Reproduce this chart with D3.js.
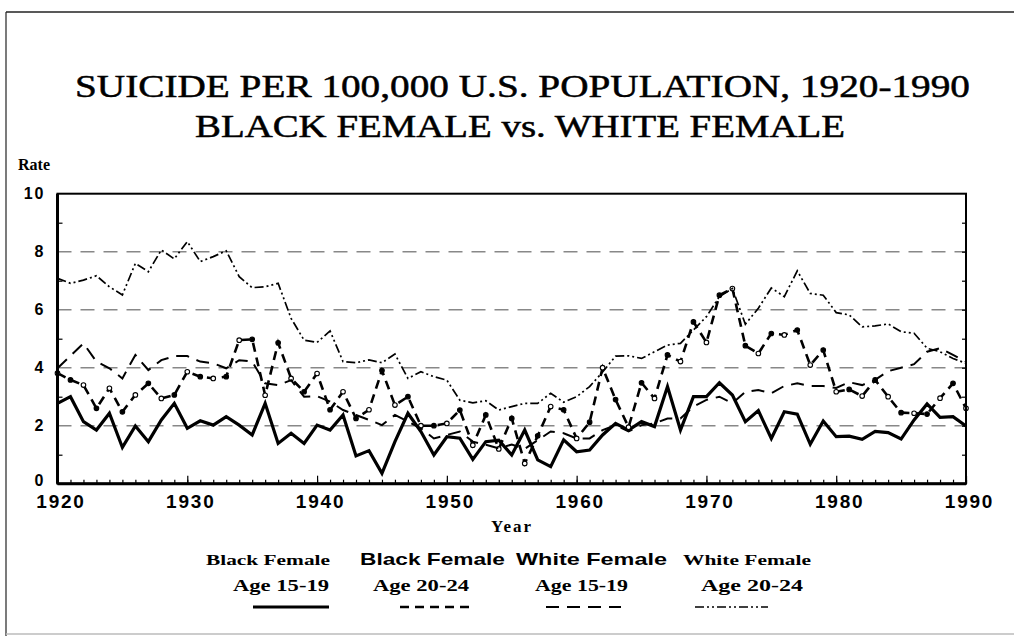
<!DOCTYPE html>
<html>
<head>
<meta charset="utf-8">
<script src="https://cdn.jsdelivr.net/npm/d3@7"></script>
<style>
  body { margin: 0; background: #fff; }
  svg text { fill: #000; }
</style>
</head>
<body>
<svg id="chart" width="1014" height="636"></svg>
<script>
// ---- data ----
const years = d3.range(1920, 1991);
const decadeTicks = [1920, 1930, 1940, 1950, 1960, 1970, 1980, 1990];
const rateTicks = [0, 2, 4, 6, 8, 10];

const blackF1519 = [
  2.77, 3.00, 2.14, 1.85, 2.43, 1.25, 1.99, 1.45, 2.20, 2.77,
  1.91, 2.17, 2.02, 2.31, 2.02, 1.68, 2.77, 1.39, 1.74, 1.39,
  2.02, 1.85, 2.37, 0.96, 1.14, 0.36, 1.45, 2.43, 1.80, 0.99,
  1.62, 1.57, 0.84, 1.45, 1.50, 0.99, 1.85, 0.82, 0.59, 1.51,
  1.10, 1.16, 1.68, 2.08, 1.85, 2.14, 1.97, 3.35, 1.85, 3.00,
  3.00, 3.48, 3.06, 2.14, 2.52, 1.56, 2.48, 2.40, 1.36, 2.16,
  1.62, 1.64, 1.53, 1.80, 1.76, 1.54, 2.20, 2.75, 2.29, 2.31,
  1.99
];
const blackF2024 = [
  3.81, 3.58, 3.40, 2.60, 3.29, 2.48, 3.06, 3.46, 2.94, 3.06,
  3.86, 3.69, 3.63, 3.69, 4.95, 4.98, 3.05, 4.86, 3.63, 3.17,
  3.80, 2.55, 3.17, 2.25, 2.55, 3.90, 2.71, 3.00, 2.00, 2.00,
  2.08, 2.54, 1.33, 2.37, 1.20, 2.25, 0.70, 1.65, 2.66, 2.55,
  1.56, 2.12, 4.00, 2.90, 1.95, 3.48, 2.94, 4.44, 4.21, 5.58,
  4.87, 6.50, 6.73, 4.76, 4.49, 5.18, 5.13, 5.30, 4.09, 4.61,
  3.17, 3.25, 3.02, 3.58, 3.00, 2.45, 2.43, 2.40, 2.95, 3.46,
  2.60
];
const whiteF1519 = [
  3.98, 4.41, 4.84, 4.21, 3.98, 3.63, 4.44, 3.92, 4.26, 4.40,
  4.40, 4.21, 4.15, 3.98, 4.26, 4.21, 3.46, 3.40, 3.57, 3.00,
  3.02, 2.83, 2.54, 2.37, 2.20, 2.02, 2.37, 2.14, 1.91, 1.56,
  1.68, 1.80, 1.45, 1.34, 1.22, 1.35, 1.20, 1.50, 1.80, 1.74,
  1.56, 1.56, 1.85, 2.02, 1.80, 2.02, 2.08, 2.25, 2.25, 2.66,
  2.89, 3.00, 2.77, 3.17, 3.23, 3.12, 3.37, 3.46, 3.37, 3.37,
  3.30, 3.50, 3.40, 3.58, 3.88, 4.00, 4.12, 4.55, 4.67, 4.44,
  4.21
];
const whiteF2024 = [
  7.08, 6.91, 7.02, 7.17, 6.79, 6.51, 7.60, 7.31, 8.06, 7.75,
  8.35, 7.66, 7.83, 8.03, 7.14, 6.76, 6.79, 6.91, 5.70, 4.95,
  4.87, 5.27, 4.21, 4.17, 4.27, 4.17, 4.47, 3.63, 3.86, 3.69,
  3.57, 2.88, 2.79, 2.86, 2.54, 2.66, 2.77, 2.77, 3.12, 2.81,
  3.00, 3.35, 3.85, 4.40, 4.41, 4.32, 4.55, 4.78, 4.84, 5.30,
  5.76, 6.45, 6.73, 5.50, 6.05, 6.75, 6.45, 7.34, 6.56, 6.50,
  5.90, 5.82, 5.41, 5.44, 5.51, 5.24, 5.19, 4.67, 4.55, 4.32,
  4.15
];

const seriesNames = ['Black Female', 'Black Female', 'White Female', 'White Female'];
const seriesAges = ['Age 15-19', 'Age 20-24', 'Age 15-19', 'Age 20-24'];

// ---- styles ----
const styles = [
  { width: 3.2, dash: null },
  { width: 2.6, dash: '9,6', markers: true },
  { width: 2, dash: '13,8' },
  { width: 1.7, dash: '9,3,2,3,2,3' }
];

const svg = d3.select('#chart');
const x = d3.scaleLinear().domain([1920, 1990]).range([57.5, 966]);
const y = d3.scaleLinear().domain([0, 10]).range([483.7, 193.7]);

// page frame lines
svg.append('line').attr('x1', 6).attr('x2', 6).attr('y1', 12).attr('y2', 636)
  .attr('stroke', '#333').attr('stroke-width', 1.3);
svg.append('line').attr('x1', 6).attr('x2', 1014).attr('y1', 12).attr('y2', 12)
  .attr('stroke', '#222').attr('stroke-width', 1.5);
svg.append('line').attr('x1', 6).attr('x2', 1014).attr('y1', 634).attr('y2', 634)
  .attr('stroke', '#bbb').attr('stroke-width', 1.5);

// title
const title = svg.append('g')
  .style('font-family', '"Liberation Serif", "Times New Roman", serif')
  .style('font-size', '31px')
  .attr('stroke', '#000').attr('stroke-width', 0.5);
title.append('text').attr('x', 75).attr('y', 97)
  .attr('textLength', 895).attr('lengthAdjust', 'spacingAndGlyphs')
  .text('SUICIDE PER 100,000 U.S. POPULATION, 1920-1990');
title.append('text').attr('x', 195).attr('y', 137)
  .attr('textLength', 650).attr('lengthAdjust', 'spacingAndGlyphs')
  .text('BLACK FEMALE vs. WHITE FEMALE');

svg.append('text').attr('x', 18).attr('y', 170)
  .style('font-family', '"Liberation Serif", serif').style('font-weight', 'bold')
  .style('font-size', '16px').text('Rate');

// gridlines
svg.append('g')
  .selectAll('line')
  .data(rateTicks.filter(d => d > 0 && d < 10))
  .join('line')
  .attr('x1', x(1920)).attr('x2', x(1990))
  .attr('y1', d => y(d)).attr('y2', d => y(d))
  .attr('stroke', '#888').attr('stroke-width', 1.6)
  .attr('stroke-dasharray', '14,9');

// minor ticks
const minorX = svg.append('g').attr('transform', `translate(0,${y(0)})`)
  .call(d3.axisBottom(x).tickValues(years).tickSize(-4).tickFormat(''));
minorX.select('.domain').remove();
const majorX = svg.append('g').attr('transform', `translate(0,${y(0)})`)
  .call(d3.axisBottom(x).tickValues(decadeTicks).tickSize(-8).tickFormat(''));
majorX.select('.domain').remove();
const minorY = svg.append('g').attr('transform', `translate(${x(1920)},0)`)
  .call(d3.axisLeft(y).tickValues([1, 3, 5, 7, 9]).tickSize(-5).tickFormat(''));
minorY.select('.domain').remove();
const rightY = svg.append('g').attr('transform', `translate(${x(1990)},0)`)
  .call(d3.axisRight(y).tickValues([1, 2, 3, 4, 5, 6, 7, 8, 9]).tickSize(-4).tickFormat(''));
rightY.select('.domain').remove();
svg.selectAll('.tick line').attr('stroke', '#000').attr('stroke-width', 1.2);

// tick labels
const xLab = svg.append('g').attr('transform', `translate(3,${y(0)})`)
  .call(d3.axisBottom(x).tickValues(decadeTicks).tickSize(0).tickPadding(11).tickFormat(d3.format('d')));
xLab.select('.domain').remove();
xLab.selectAll('text')
  .style('font-family', '"Liberation Sans", Arial, sans-serif')
  .style('font-weight', 'bold').style('font-size', '19px')
  .style('letter-spacing', '1.8px').attr('fill', '#000');

const yLab = svg.append('g').attr('transform', `translate(${x(1920)},0)`)
  .call(d3.axisLeft(y).tickValues(rateTicks).tickSize(0).tickPadding(12).tickFormat(d3.format('d')));
yLab.select('.domain').remove();
yLab.selectAll('text')
  .style('font-family', '"Liberation Sans", Arial, sans-serif')
  .style('font-weight', 'bold').style('font-size', '16px')
  .style('letter-spacing', '2px')
  .attr('dy', (d) => d === 0 ? '0.1em' : '0.32em')
  .attr('fill', '#000');

svg.append('text').attr('x', 512).attr('y', 532).attr('text-anchor', 'middle')
  .style('font-family', '"Liberation Serif", serif').style('font-weight', 'bold')
  .style('font-size', '17px').style('letter-spacing', '2px').text('Year');

// series lines
const allSeries = [blackF1519, blackF2024, whiteF1519, whiteF2024];
const line = d3.line().x((d, i) => x(years[i])).y(d => y(d));

const plot = svg.append('g');
allSeries.forEach((vals, k) => {
  const st = styles[k];
  plot.append('path')
    .datum(vals)
    .attr('d', line)
    .attr('fill', 'none')
    .attr('stroke', '#000')
    .attr('stroke-width', st.width)
    .attr('stroke-linejoin', 'miter')
    .attr('stroke-dasharray', st.dash);
  if (st.markers) {
    plot.append('g').selectAll('circle')
      .data(vals)
      .join('circle')
      .attr('cx', (d, i) => x(years[i]))
      .attr('cy', d => y(d))
      .attr('r', 2.3)
      .attr('fill', (d, i) => i % 2 ? '#000' : '#fff')
      .attr('stroke', '#000').attr('stroke-width', 1.1);
  }
});

// plot frame
svg.append('rect')
  .attr('x', x(1920)).attr('y', y(10))
  .attr('width', x(1990) - x(1920)).attr('height', y(0) - y(10))
  .attr('fill', 'none').attr('stroke', '#000').attr('stroke-width', 2);
svg.append('line').attr('x1', x(1920)).attr('x2', x(1920)).attr('y1', y(10)).attr('y2', y(0))
  .attr('stroke', '#000').attr('stroke-width', 3);
svg.append('line').attr('x1', x(1920)).attr('x2', x(1990)).attr('y1', y(0)).attr('y2', y(0))
  .attr('stroke', '#000').attr('stroke-width', 3);

// legend
const legendItems = [
  { nameX: 206, nameW: 124, nameSerif: true, ageX: 233, ageW: 96, swX: 253, swW: 76 },
  { nameX: 360, nameW: 145, nameSerif: false, ageX: 373, ageW: 96, swX: 400, swW: 74 },
  { nameX: 516, nameW: 151, nameSerif: false, ageX: 535, ageW: 93, swX: 546, swW: 75 },
  { nameX: 683, nameW: 128, nameSerif: true, ageX: 701, ageW: 102, swX: 695, swW: 73 }
];
const legend = svg.append('g');
legendItems.forEach((it, k) => {
  legend.append('text').attr('x', it.nameX).attr('y', 565)
    .attr('textLength', it.nameW).attr('lengthAdjust', 'spacingAndGlyphs')
    .style('font-family', it.nameSerif ? '"Liberation Serif", serif' : '"Liberation Sans", Arial, sans-serif')
    .style('font-weight', 'bold').style('font-size', it.nameSerif ? '15px' : '17px')
    .text(seriesNames[k]);
  legend.append('text').attr('x', it.ageX).attr('y', 591)
    .attr('textLength', it.ageW).attr('lengthAdjust', 'spacingAndGlyphs')
    .style('font-family', '"Liberation Serif", serif')
    .style('font-weight', 'bold').style('font-size', '17px')
    .text(seriesAges[k]);
  legend.append('line')
    .attr('x1', it.swX).attr('x2', it.swX + it.swW).attr('y1', 607).attr('y2', 607)
    .attr('stroke', '#000').attr('stroke-width', styles[k].width)
    .attr('stroke-dasharray', styles[k].dash);
});
</script>
</body>
</html>
